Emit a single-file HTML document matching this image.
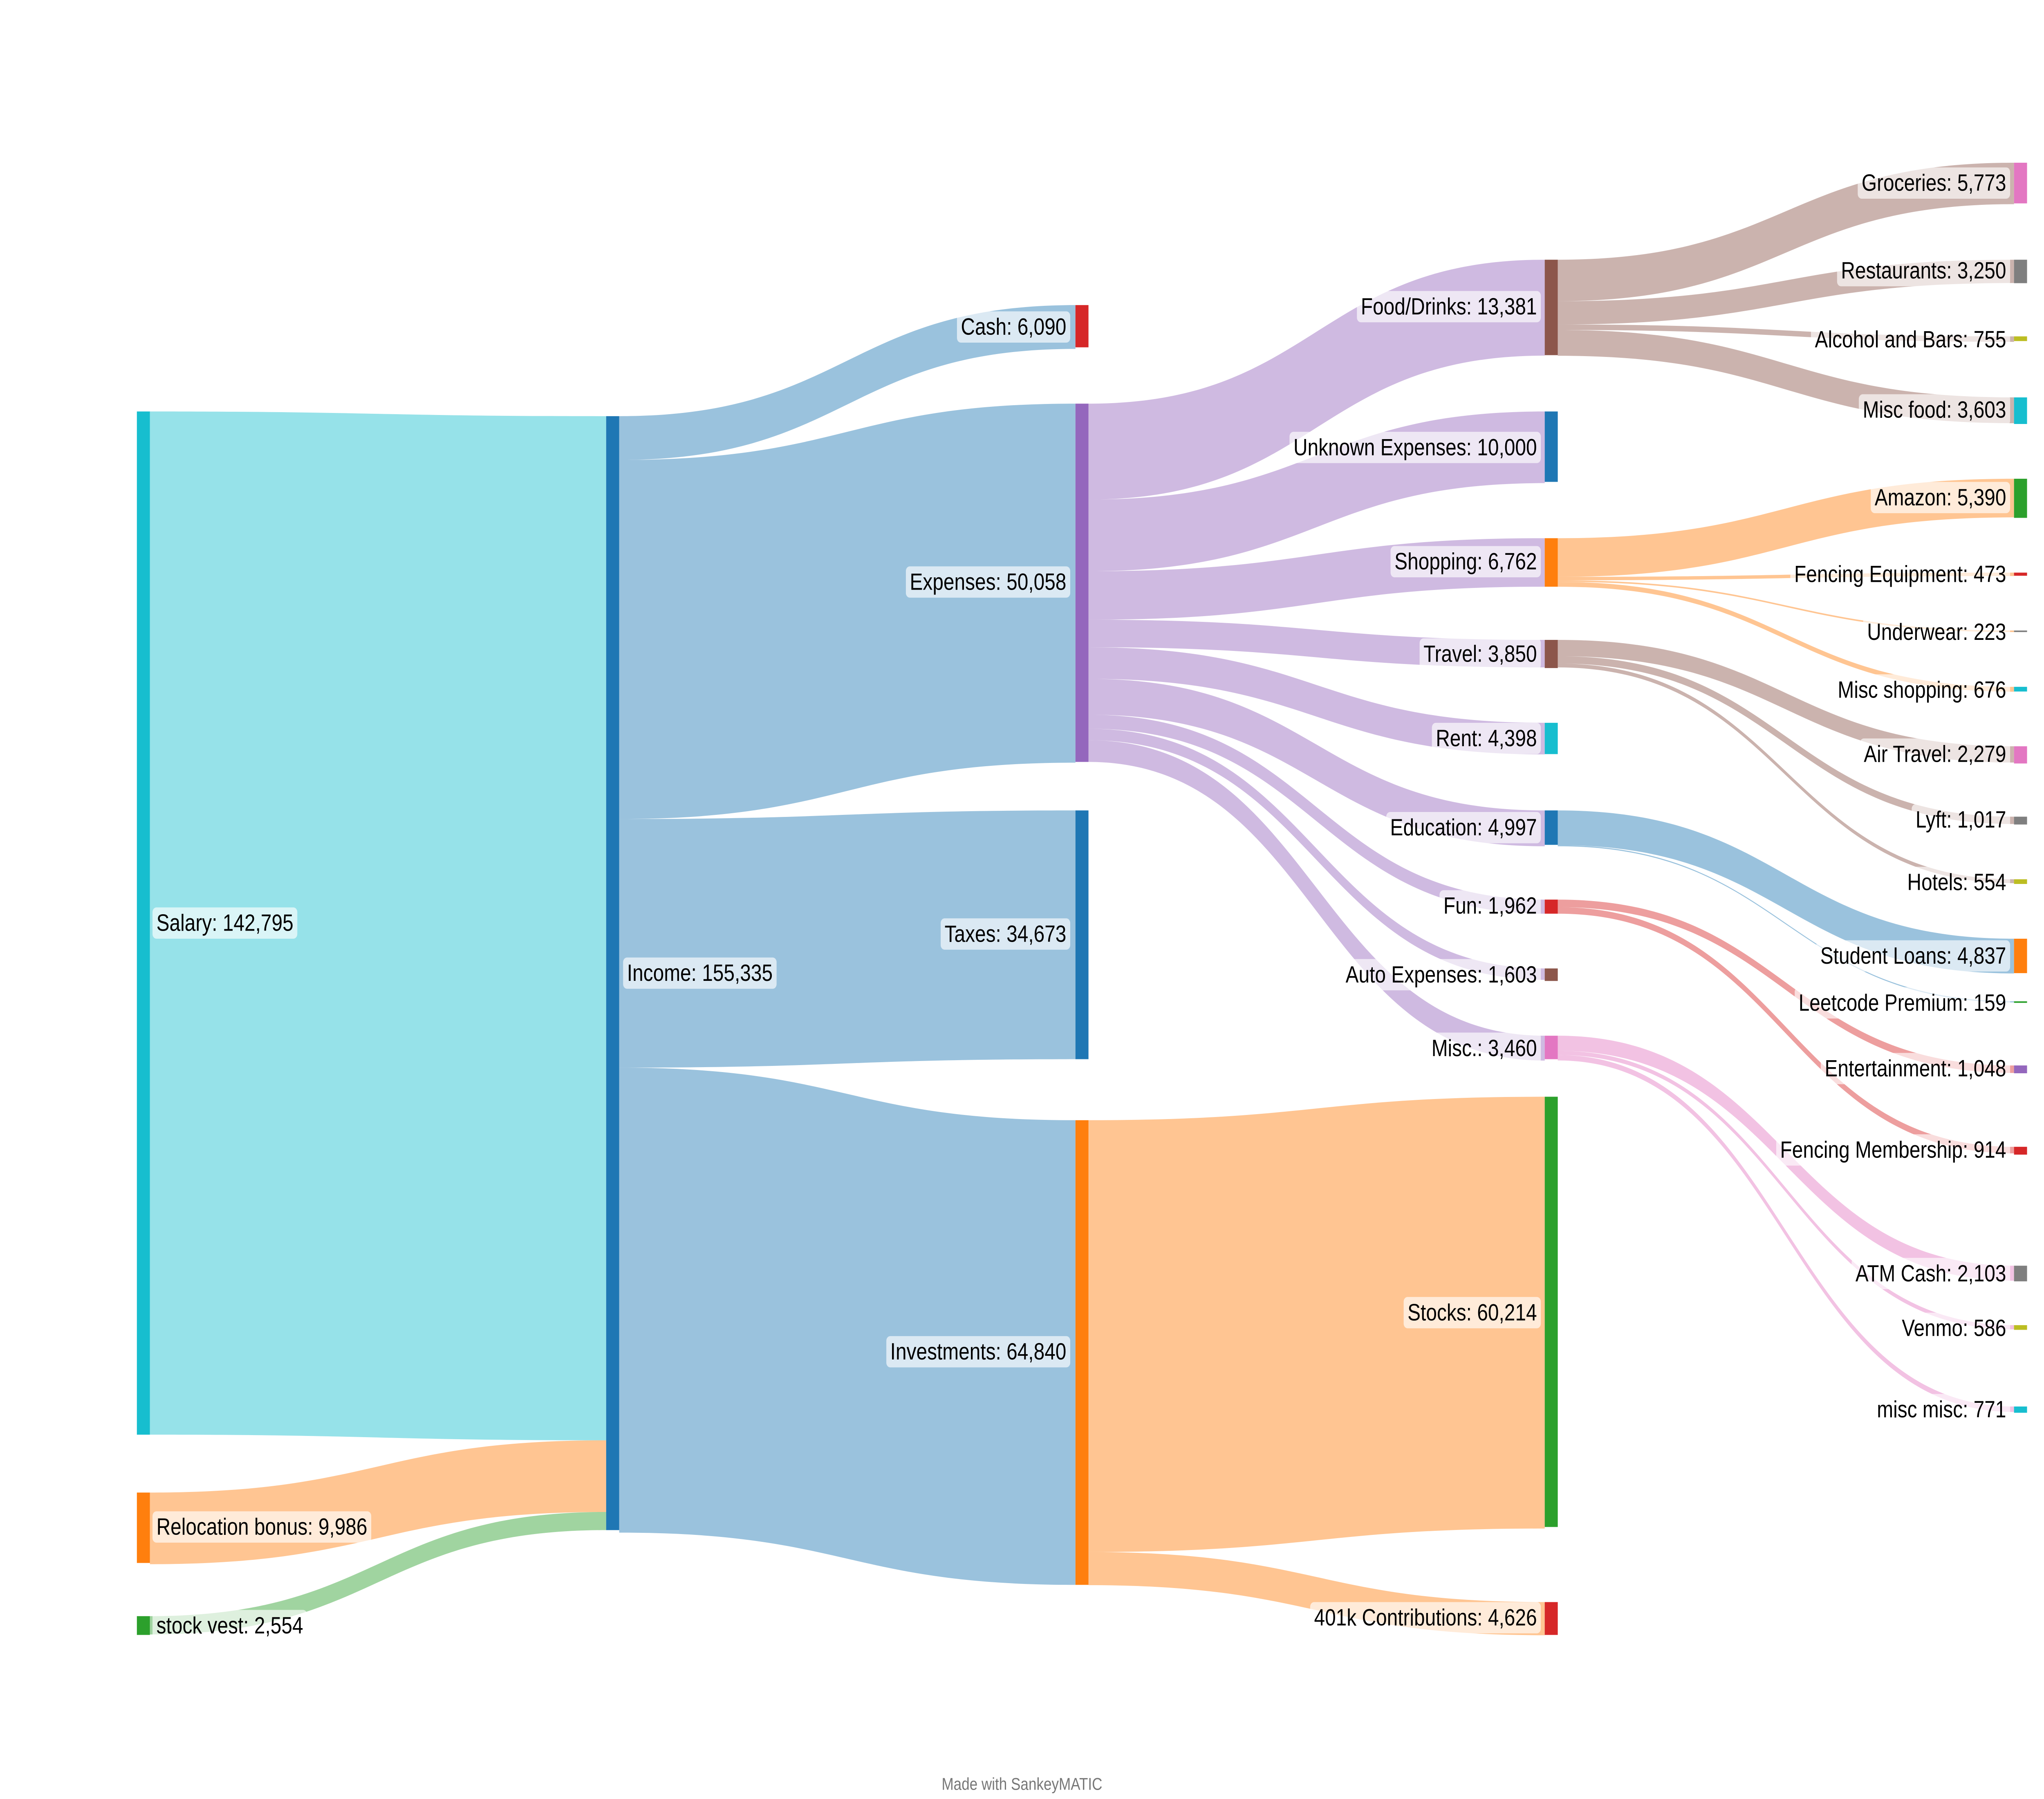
<!DOCTYPE html>
<html><head><meta charset="utf-8">
<style>
html,body{margin:0;padding:0;background:#fff;overflow:hidden;width:100%;height:100%;}
svg{display:block;position:fixed;left:0;top:0;width:100vw;height:100vh;}
text{font-family:"Liberation Sans",Arial,sans-serif;font-size:15px;fill:#000;}
</style></head>
<body>
<svg id="s" viewBox="0 0 1568 1149.87" preserveAspectRatio="none" xmlns="http://www.w3.org/2000/svg">
<g id="links"></g>
<g id="nodes"></g>
<g id="labels">
<text x="120" y="590" data-a="s">Salary: 142,795</text>
<text x="120" y="976" data-a="s">Relocation bonus: 9,986</text>
<text x="120" y="1039" data-a="s">stock vest: 2,554</text>
<text x="481" y="622" data-a="s">Income: 155,335</text>
<text x="818" y="209" data-a="e">Cash: 6,090</text>
<text x="818" y="372" data-a="e">Expenses: 50,058</text>
<text x="818" y="597" data-a="e">Taxes: 34,673</text>
<text x="818" y="864" data-a="e">Investments: 64,840</text>
<text x="1179" y="196" data-a="e">Food/Drinks: 13,381</text>
<text x="1179" y="286" data-a="e">Unknown Expenses: 10,000</text>
<text x="1179" y="359" data-a="e">Shopping: 6,762</text>
<text x="1179" y="418" data-a="e">Travel: 3,850</text>
<text x="1179" y="472" data-a="e">Rent: 4,398</text>
<text x="1179" y="529" data-a="e">Education: 4,997</text>
<text x="1179" y="579" data-a="e">Fun: 1,962</text>
<text x="1179" y="623" data-a="e">Auto Expenses: 1,603</text>
<text x="1179" y="670" data-a="e">Misc.: 3,460</text>
<text x="1179" y="839" data-a="e">Stocks: 60,214</text>
<text x="1179" y="1034" data-a="e">401k Contributions: 4,626</text>
<text x="1539" y="117" data-a="e">Groceries: 5,773</text>
<text x="1539" y="173" data-a="e">Restaurants: 3,250</text>
<text x="1539" y="217" data-a="e">Alcohol and Bars: 755</text>
<text x="1539" y="262" data-a="e">Misc food: 3,603</text>
<text x="1539" y="318" data-a="e">Amazon: 5,390</text>
<text x="1539" y="367" data-a="e">Fencing Equipment: 473</text>
<text x="1539" y="404" data-a="e">Underwear: 223</text>
<text x="1539" y="441" data-a="e">Misc shopping: 676</text>
<text x="1539" y="482" data-a="e">Air Travel: 2,279</text>
<text x="1539" y="524" data-a="e">Lyft: 1,017</text>
<text x="1539" y="564" data-a="e">Hotels: 554</text>
<text x="1539" y="611" data-a="e">Student Loans: 4,837</text>
<text x="1539" y="641" data-a="e">Leetcode Premium: 159</text>
<text x="1539" y="683" data-a="e">Entertainment: 1,048</text>
<text x="1539" y="735" data-a="e">Fencing Membership: 914</text>
<text x="1539" y="814" data-a="e">ATM Cash: 2,103</text>
<text x="1539" y="849" data-a="e">Venmo: 586</text>
<text x="1539" y="901" data-a="e">misc misc: 771</text>
</g>
<text x="784" y="1144" text-anchor="middle" style="font-size:11px;fill:#777">Made with SankeyMATIC</text>
</svg>
<script>
var NS="http://www.w3.org/2000/svg";
var C={cy:"#17becf",or:"#ff7f0e",gr:"#2ca02c",bl:"#1f77b4",rd:"#d62728",pu:"#9467bd",br:"#8c564b",pk:"#e377c2",gy:"#7f7f7f",ol:"#bcbd22"};
var X=[105,465,825,1185,1545],W=10;
var nodes=[[0,263,917,C.cy],[0,954,999,C.or],[0,1033,1045,C.gr],[1,266,978,C.bl],
[2,195,222,C.rd],[2,258,487,C.pu],[2,518,677,C.bl],[2,716,1013,C.or],
[3,166,227,C.br],[3,263,308,C.bl],[3,344,375,C.or],[3,409,427,C.br],[3,462,482,C.cy],[3,518,540,C.bl],[3,575,584,C.rd],[3,619,627,C.br],[3,662,677,C.pk],[3,701,976,C.gr],[3,1024,1045,C.rd],
[4,104,130,C.pk],[4,166,181,C.gy],[4,215,218,C.ol],[4,254,271,C.cy],[4,306,331,C.gr],[4,366,368,C.rd],[4,403,404,C.gy],[4,439,442,C.cy],[4,477,488,C.pk],[4,522,527,C.gy],[4,562,565,C.ol],[4,600,622,C.or],[4,640,641,C.gr],[4,681,686,C.pu],[4,733,738,C.rd],[4,809,819,C.gy],[4,847,850,C.ol],[4,899,903,C.cy]];
var L=[[0,263,917,266,920.6,C.cy],[0,954,999.8,920.6,966.4,C.or],[0,1033,1044.7,966.4,978,C.gr],
[1,266,294,195,223,C.bl],[1,294,523.5,258,487.5,C.bl],[1,523.5,682.4,518,677,C.bl],[1,682.4,979.6,716,1013,C.bl],
[2,258,319.3,166,227.3,C.pu],[2,319.3,365.1,263,308.8,C.pu],[2,365.1,396.1,344,375,C.pu],[2,396.1,413.7,409,426.6,C.pu],[2,413.7,433.9,462,482.2,C.pu],[2,433.9,456.8,518,540.9,C.pu],[2,456.8,465.8,575,584,C.pu],[2,465.8,473.1,619,626.3,C.pu],[2,473.1,487,662,677.9,C.pu],
[2,716,992,701,977,C.or],[2,992,1013.2,1024,1045.2,C.or],
[3,166,192.5,104,130.5,C.br],[3,192.5,207.4,166,180.9,C.br],[3,207.4,210.9,215,218.5,C.br],[3,210.9,227.4,254,270.5,C.br],
[3,344,368.7,306,330.7,C.or],[3,368.7,370.9,366,368.2,C.or],[3,370.9,371.9,403,404,C.or],[3,371.9,375,439,442.1,C.or],
[3,409,419.4,477,487.4,C.br],[3,419.4,424.1,522,526.7,C.br],[3,424.1,426.6,562,564.5,C.br],
[3,518,540.2,600,622.2,C.bl],[3,540.2,540.9,640,640.7,C.bl],
[3,575,579.8,681,685.8,C.rd],[3,579.8,584,733,737.2,C.rd],
[3,662,671.6,809,818.6,C.pk],[3,671.6,674.3,847,849.7,C.pk],[3,674.3,677.8,899,902.5,C.pk]];
var lg=document.getElementById("links");
L.forEach(function(l){var x1=X[l[0]]+W,x2=X[l[0]+1],xm=(x1+x2)/2;
var p=document.createElementNS(NS,"path");
p.setAttribute("d","M"+x1+","+l[1]+"C"+xm+","+l[1]+" "+xm+","+l[3]+" "+x2+","+l[3]+"L"+x2+","+l[4]+"C"+xm+","+l[4]+" "+xm+","+l[2]+" "+x1+","+l[2]+"Z");
p.setAttribute("fill",l[5]);p.setAttribute("fill-opacity","0.45");lg.appendChild(p);});
var ng=document.getElementById("nodes");
nodes.forEach(function(n){var r=document.createElementNS(NS,"rect");
r.setAttribute("x",X[n[0]]);r.setAttribute("y",n[1]);r.setAttribute("width",W);r.setAttribute("height",Math.max(1,n[2]-n[1]));r.setAttribute("fill",n[3]);ng.appendChild(r);});
var lab=document.getElementById("labels");
Array.prototype.slice.call(lab.querySelectorAll("text")).forEach(function(t){
var a=t.getAttribute("data-a");t.setAttribute("text-anchor",a=="s"?"start":"end");
t.setAttribute("dominant-baseline","central");
var w=t.getComputedTextLength(),x=+t.getAttribute("x"),y=+t.getAttribute("y");
var r=document.createElementNS(NS,"rect");
r.setAttribute("x",(a=="s"?x:x-w)-3);r.setAttribute("y",y-10);r.setAttribute("width",w+6);r.setAttribute("height",20);
r.setAttribute("rx",3);r.setAttribute("fill","#fff");r.setAttribute("fill-opacity","0.65");
lab.insertBefore(r,t);});
</script>
</body></html>
